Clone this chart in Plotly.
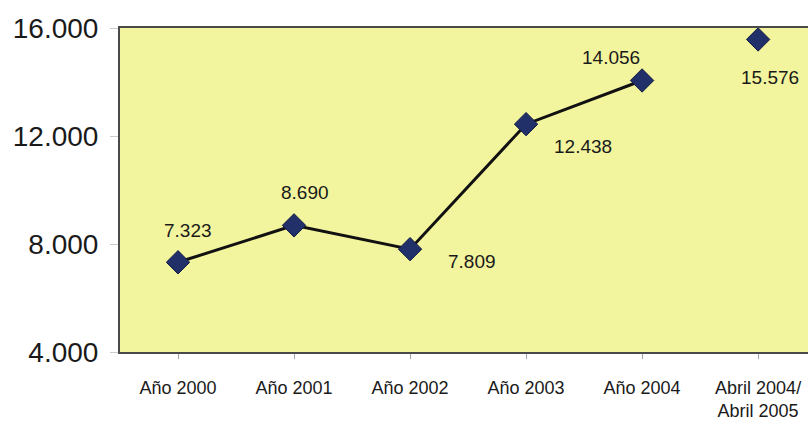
import plotly.graph_objects as go

categories = ["Año 2000", "Año 2001", "Año 2002", "Año 2003", "Año 2004", "Abril 2004/<br>Abril 2005"]
values = [7323, 8690, 7809, 12438, 14056, 15576]
line_count = 5  # the last point is not joined to the line
y_ticks = [4000, 8000, 12000, 16000]

# label offsets (pixels) for the value labels
label_dx = [10, 11, 62, 57, -31, 12]
label_dy = [32, 33, -12, -22, 23, -38]

FONT = "Arial, Liberation Sans, sans-serif"

fig = go.Figure()
fig.add_trace(go.Scatter(
    x=list(range(line_count)), y=values[:line_count], mode="lines",
    line=dict(color="#111111", width=3), hoverinfo="skip", showlegend=False,
))
fig.add_trace(go.Scatter(
    x=list(range(len(values))), y=values, mode="markers",
    marker=dict(symbol="diamond", size=18, color="#22306a",
                line=dict(color="#141c45", width=1)),
    showlegend=False,
))

for i, v in enumerate(values):
    fig.add_annotation(
        x=i, y=v, xref="x", yref="y", text=f"{v:,}".replace(",", "."),
        showarrow=False, xshift=label_dx[i], yshift=label_dy[i],
        font=dict(family=FONT, size=19, color="#1a1a1a"),
    )

fig.update_layout(
    width=808, height=432,
    margin=dict(l=120, r=0, t=28, b=80),
    paper_bgcolor="white", plot_bgcolor="#f3f59e",
    separators=",.",
    xaxis=dict(
        tickmode="array", tickvals=list(range(len(categories))), ticktext=categories,
        range=[-0.5, 5.43], showgrid=False, zeroline=False,
        showline=True, linecolor="#4a4a4a", linewidth=2, mirror=True,
        ticks="outside", tickson="boundaries", ticklen=5, tickcolor="#9aa4ad",
        tickfont=dict(family=FONT, size=18, color="#1a1a1a"),
        ticklabelstandoff=13,
    ),
    yaxis=dict(
        range=[4000, 16000], tickvals=y_ticks, tickformat=",d",
        showgrid=False, zeroline=False,
        showline=True, linecolor="#4a4a4a", linewidth=2,
        ticks="outside", ticklen=8, tickcolor="#c8cdd2",
        tickfont=dict(family=FONT, size=28, color="#1a1a1a"),
        ticklabelstandoff=6,
    ),
)

fig.write_html("out.html")
